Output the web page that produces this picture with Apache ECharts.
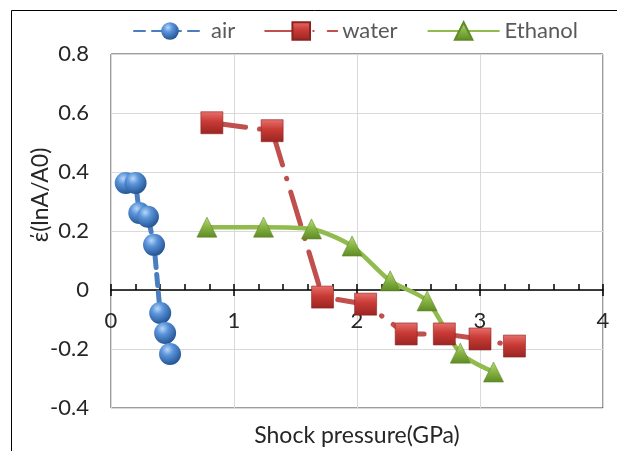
<!DOCTYPE html>
<html>
<head>
<meta charset="utf-8">
<script src="https://cdn.jsdelivr.net/npm/echarts@6/dist/echarts.min.js"></script>
<style>
html,body{margin:0;padding:0;background:#fff;}
#chart{width:617px;height:451px;}
</style>
</head>
<body>
<div id="chart"></div>
<script>
// ---- data ----
const seriesNames = ['air', 'water', 'Ethanol'];
const airX = [0.12, 0.20, 0.23, 0.30, 0.35, 0.40, 0.44, 0.48];
const airY = [0.363, 0.363, 0.261, 0.248, 0.153, -0.078, -0.146, -0.217];
const waterX = [0.82, 1.31, 1.72, 2.07, 2.40, 2.71, 3.00, 3.28];
const waterY = [0.567, 0.540, -0.024, -0.048, -0.149, -0.149, -0.166, -0.190];
const ethanolX = [0.78, 1.24, 1.63, 1.96, 2.27, 2.57, 2.84, 3.11];
const ethanolY = [0.213, 0.213, 0.207, 0.149, 0.031, -0.037, -0.214, -0.278];
const xTicks = [0, 1, 2, 3, 4];
const yTicks = [-0.4, -0.2, 0, 0.2, 0.4, 0.6, 0.8];
const xName = 'Shock pressure(GPa)';
const yName = 'έ(lnA/A0)';

const pairs = (xs, ys) => xs.map((x, i) => [x, ys[i]]);
const FONT = 'Lato';
const yMin = yTicks[0], yMax = yTicks[yTicks.length - 1];
const xMin = xTicks[0], xMax = xTicks[xTicks.length - 1];
const W = 617, H = 451;
const gridRect = {left: 111, right: 14, top: 54, bottom: 43};
const gridH = H - gridRect.top - gridRect.bottom;
// move the x axis from the bottom edge up to where y = 0 lies
const zeroOffset = -gridH * (0 - yMin) / (yMax - yMin);

const chart = echarts.init(document.getElementById('chart'), null, {renderer: 'canvas'});
const option = {
  backgroundColor: '#fff',
  animation: false,
  graphic: [{
    type: 'rect', silent: true,
    shape: {x: 11.5, y: 10.5, width: 700, height: 500},
    style: {fill: 'none', stroke: '#000', lineWidth: 1}
  }, {
    type: 'text', silent: true,
    x: 41, y: 195, rotation: Math.PI / 2,
    style: {text: yName, fontFamily: FONT, fontSize: 23, fill: '#262626', align: 'center', verticalAlign: 'middle'}
  }],
  legend: {
    left: 128, top: 15,
    itemWidth: 72, itemHeight: 22, itemGap: 29,
    textStyle: {fontFamily: FONT, fontSize: 22, color: '#595959'},
    data: seriesNames
  },
  grid: Object.assign({show: true, borderColor: '#3a3a3a', borderWidth: 1,
    containLabel: false, outerBoundsMode: 'none'}, gridRect),
  xAxis: [{
    type: 'value', position: 'bottom', offset: zeroOffset,
    min: xMin, max: xMax, interval: 1,
    axisLine: {show: true, onZero: false, lineStyle: {color: '#000', width: 1.5}},
    axisTick: {show: true, inside: false, length: 6, lineStyle: {color: '#000', width: 1.5}},
    axisLabel: {margin: 20, fontFamily: FONT, fontSize: 22, color: '#262626'},
    splitLine: {show: true, lineStyle: {color: '#d9d9d9', width: 1}},
    name: xName, nameLocation: 'middle', nameGap: 134,
    nameTextStyle: {fontFamily: FONT, fontSize: 23, color: '#262626'}
  }, {
    type: 'value', position: 'bottom', offset: zeroOffset,
    min: xMin, max: xMax, interval: 0.2,
    axisLine: {show: false, onZero: false},
    axisTick: {show: true, inside: true, length: 6, lineStyle: {color: '#000', width: 1.5}},
    axisLabel: {show: false},
    splitLine: {show: false}
  }],
  yAxis: {
    type: 'value', position: 'left',
    min: yMin, max: yMax, interval: 0.2,
    axisLine: {show: false, onZero: false},
    axisTick: {show: false},
    axisLabel: {margin: 22, fontFamily: FONT, fontSize: 22, color: '#262626'},
    splitLine: {show: true, lineStyle: {color: '#d9d9d9', width: 1}}
  },
  series: [{
    name: seriesNames[0], type: 'line', xAxisIndex: 0,
    data: pairs(airX, airY),
    symbol: 'circle', symbolSize: 22,
    lineStyle: {color: '#4a7ebf', width: 5, type: [11, 7], cap: 'round'},
    itemStyle: {
      color: {type: 'radial', x: 0.38, y: 0.3, r: 0.75,
        colorStops: [{offset: 0, color: '#b9d7f7'}, {offset: 0.35, color: '#5b95db'}, {offset: 1, color: '#1f4e8c'}]},
      borderWidth: 0
    }
  }, {
    name: seriesNames[1], type: 'line', xAxisIndex: 0,
    data: pairs(waterX, waterY),
    symbol: 'rect', symbolSize: 22,
    lineStyle: {color: '#c0504d', width: 5, type: [34, 14, 0.5, 14], cap: 'round'},
    itemStyle: {
      color: {type: 'linear', x: 0, y: 0, x2: 0, y2: 1,
        colorStops: [{offset: 0, color: '#e8706b'}, {offset: 0.45, color: '#c83a35'}, {offset: 1, color: '#9a2522'}]},
      borderColor: '#8c2220', borderWidth: 0.6
    }
  }, {
    name: seriesNames[2], type: 'line', xAxisIndex: 0,
    data: pairs(ethanolX, ethanolY),
    symbol: 'triangle', symbolSize: [20, 20], smooth: 0.25,
    lineStyle: {color: '#92bb4f', width: 4.5},
    itemStyle: {
      color: {type: 'linear', x: 0, y: 0, x2: 0, y2: 1,
        colorStops: [{offset: 0, color: '#b8dc7c'}, {offset: 0.5, color: '#86b343'}, {offset: 1, color: '#5e8a25'}]},
      borderColor: '#5e8a25', borderWidth: 0.6
    }
  }]
};
chart.setOption(option);
</script>
</body>
</html>
